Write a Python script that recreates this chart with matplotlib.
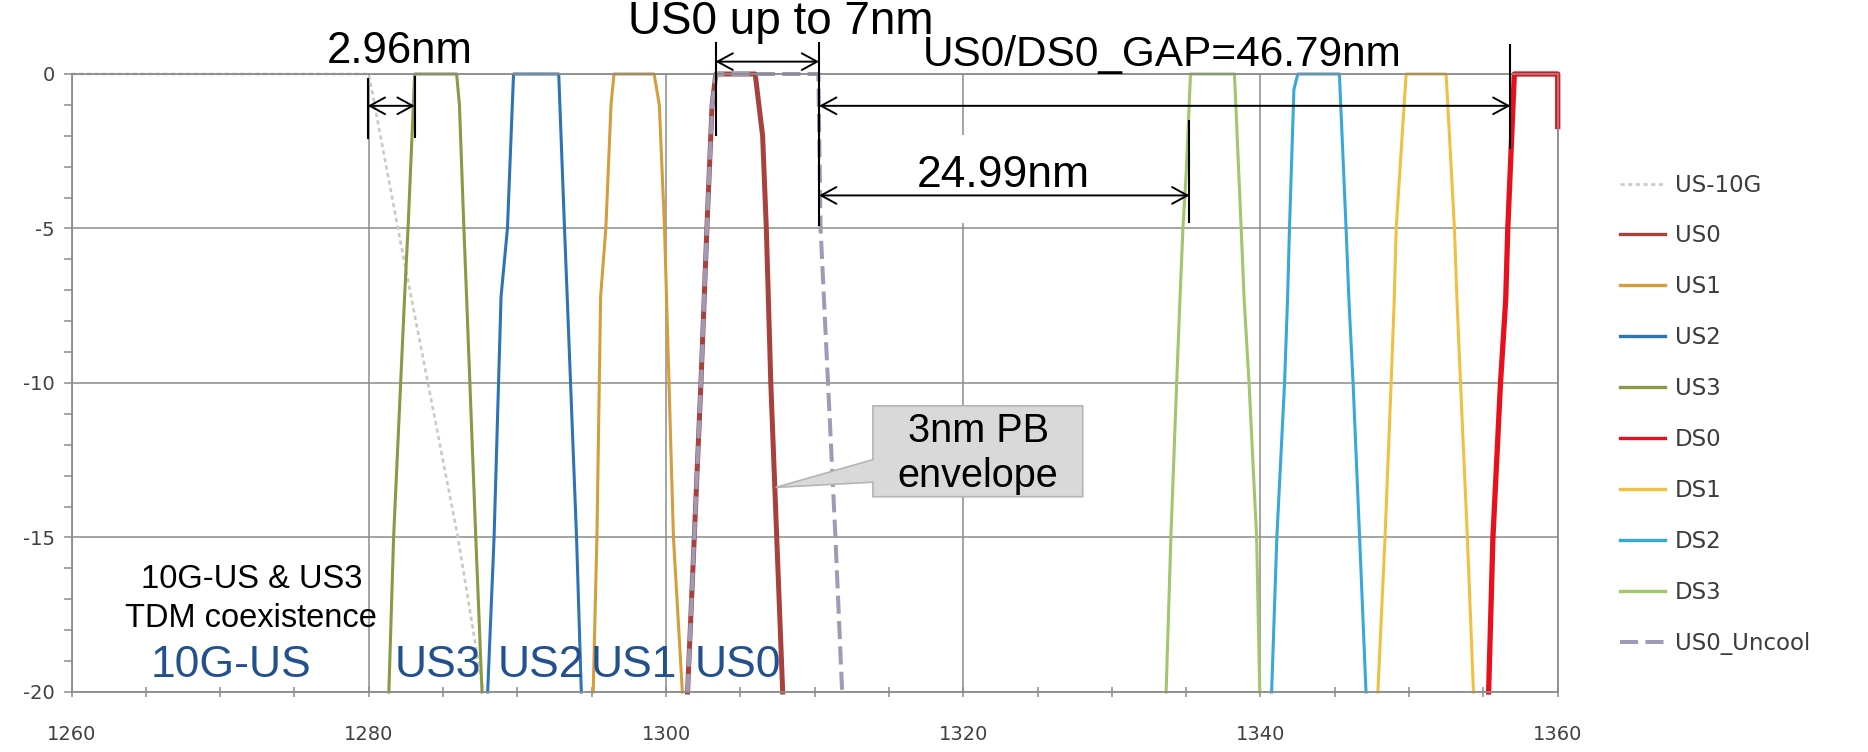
import matplotlib
matplotlib.use("Agg")
import matplotlib.pyplot as plt
from matplotlib.patches import Polygon, Rectangle

plt.rcParams["axes.unicode_minus"] = False

# filter curves: wavelength (nm) and relative power (dB)
us10g_wl = [1260.0, 1280.0, 1282.2, 1286.0, 1287.7]
us10g_db = [0, 0, -5.6, -15, -20]

us0_wl = [1301.45, 1301.9, 1302.35, 1302.75, 1303.1, 1303.35, 1306.0, 1306.5, 1306.75, 1307.05, 1307.45, 1307.85]
us0_db = [-20, -15, -10, -5, -1, 0, 0, -2, -5, -10, -15, -20]

us1_wl = [1295.1, 1295.35, 1295.6, 1295.95, 1296.3, 1296.5, 1299.2, 1299.55, 1299.9, 1300.2, 1300.5, 1301.1]
us1_db = [-20, -15, -7.2, -5, -1, 0, 0, -1, -5, -10, -15, -20]

us2_wl = [1288.0, 1288.43, 1288.9, 1289.33, 1289.74, 1292.78, 1293.17, 1293.35, 1293.98, 1294.3]
us2_db = [-20, -15, -7.2, -5, 0, 0, -5, -7.2, -15, -20]

us3_wl = [1281.35, 1281.67, 1282.41, 1282.64, 1283.09, 1285.91, 1286.1, 1286.4, 1286.58, 1287.2, 1287.62]
us3_db = [-20, -15, -7.2, -5, 0, 0, -1, -5, -7.2, -15, -20]

ds0_wl = [1355.35, 1355.64, 1356.15, 1356.5, 1356.64, 1357.08, 1360.0, 1360.0]
ds0_db = [-20, -15, -10, -7.3, -5, 0, 0, -1.7]

ds1_wl = [1347.9, 1348.38, 1348.79, 1349.0, 1349.13, 1349.8, 1352.49, 1353.05, 1353.22, 1353.46, 1353.92, 1354.33]
ds1_db = [-20, -15, -10, -7.3, -5, 0, 0, -5, -7.3, -10, -15, -20]

ds2_wl = [1340.75, 1341.1, 1341.62, 1341.82, 1341.95, 1342.25, 1342.51, 1345.31, 1345.76, 1345.95, 1346.23, 1346.67, 1347.1]
ds2_db = [-20, -15, -10, -7.3, -5, -0.5, 0, 0, -5, -7.3, -10, -15, -20]

ds3_wl = [1333.65, 1333.97, 1334.36, 1334.58, 1334.78, 1335.0, 1335.29, 1338.25, 1338.7, 1338.9, 1339.23, 1339.74, 1339.95]
ds3_db = [-20, -15, -10, -7.3, -5, -3.2, 0, 0, -5, -7.3, -10, -15, -20]

uncool_wl = [1301.45, 1301.9, 1302.35, 1302.75, 1303.1, 1303.35, 1310.25, 1310.4, 1310.9, 1311.4, 1311.85]
uncool_db = [-20, -15, -10, -5, -1, 0, 0, -5, -10, -15, -20]

band_labels = ["10G-US", "US3", "US2", "US1", "US0"]
band_centers = [1270.75, 1284.64, 1291.6, 1297.8, 1304.83]

ARIAL = ["Liberation Sans", "DejaVu Sans"]
GRID = "#8c8c8c"

fig = plt.figure(figsize=(18.68, 7.52), dpi=100)
ax = fig.add_axes([0.0383, 0.0798, 0.7956, 0.8218])

series = [
    ("US-10G", us10g_wl, us10g_db, dict(color="#c9c9c9", lw=1.9, dashes=(1.6, 1.3))),
    ("US0", us0_wl, us0_db, dict(color="#a8403b", lw=3.6)),
    ("US1", us1_wl, us1_db, dict(color="#d69d3c", lw=2.2)),
    ("US2", us2_wl, us2_db, dict(color="#2c74b4", lw=2.2)),
    ("US3", us3_wl, us3_db, dict(color="#8a9a42", lw=2.2)),
    ("DS0", ds0_wl, ds0_db, dict(color="#e8101c", lw=3.8)),
    ("DS1", ds1_wl, ds1_db, dict(color="#f0c040", lw=2.2)),
    ("DS2", ds2_wl, ds2_db, dict(color="#38a8d8", lw=2.2)),
    ("DS3", ds3_wl, ds3_db, dict(color="#a2c66a", lw=2.2)),
    ("US0_Uncool", uncool_wl, uncool_db, dict(color="#9d9bb5", lw=2.9, dashes=(4.5, 1.8))),
]
for name, wl, db, style in series:
    ax.plot(wl, db, label=name, clip_on=False, solid_joinstyle="round", zorder=2, **style)

ax.set_xlim(1260, 1360)
ax.set_ylim(-20, 0)
ax.set_xticks(range(1260, 1361, 20))
ax.set_xticks(range(1260, 1361, 5), minor=True)
ax.set_yticks(range(-20, 1, 5))
ax.set_yticks(range(-20, 1, 1), minor=True)
ax.set_axisbelow(True)
ax.grid(which="major", color=GRID, lw=1.1)
for sp in ax.spines.values():
    sp.set_color(GRID)
    sp.set_linewidth(1.3)
ax.tick_params(axis="x", which="both", direction="inout", length=7, width=1.1,
               color=GRID, pad=20, labelsize=14, labelcolor="#404040")
ax.tick_params(axis="y", which="both", direction="out", length=6, width=1.1,
               color=GRID, pad=6, labelsize=14, labelcolor="#404040")

leg = ax.legend(loc="center left", bbox_to_anchor=(0.867, 0.449), bbox_transform=fig.transFigure,
                frameon=False, fontsize=16.5, handlelength=2.0, handletextpad=0.4,
                labelspacing=1.22, borderpad=0, borderaxespad=0)
for t in leg.get_texts():
    t.set_color("#3c3c3c")
for ln in leg.get_lines():
    if ln.get_linestyle() == "-":
        ln.set_linewidth(2.4)

# dimension markers and arrows
def vmark(x, y0, y1):
    ax.plot([x, x], [y0, y1], color="k", lw=1.5, clip_on=False, zorder=5)

def dim_arrow(x0, x1, y):
    ax.annotate("", xy=(x1, y), xytext=(x0, y), annotation_clip=False, zorder=5,
                arrowprops=dict(arrowstyle="<->,head_length=0.55,head_width=0.3", lw=1.4,
                                color="k", shrinkA=0, shrinkB=0, mutation_scale=20))

vmark(1279.93, -0.17, -2.08)
vmark(1283.09, -0.09, -2.03)
vmark(1303.33, 1.0, -1.97)
vmark(1310.3, 1.0, -4.9)
vmark(1335.22, -1.52, -4.78)
vmark(1356.82, 0.94, -2.4)

dim_arrow(1279.93, 1283.09, -1.03)
dim_arrow(1303.33, 1310.3, 0.4)
dim_arrow(1310.3, 1356.82, -1.03)

ax.add_patch(Rectangle((1316.0, -4.83), 16.0, 2.85, fc="white", ec="none", zorder=1))
dim_arrow(1310.3, 1335.22, -3.93)

ax.text(1277.2, 0.35, "2.96nm", fontsize=31.5, family=ARIAL, va="baseline")
ax.text(1297.45, 1.3, "US0 up to 7nm", fontsize=33, family=ARIAL, va="baseline")
ax.text(1317.3, 0.27, "US0/DS0_GAP=46.79nm", fontsize=30.5, family=ARIAL, va="baseline")
ax.text(1316.9, -3.67, "24.99nm", fontsize=32, family=ARIAL, va="baseline", zorder=4)

# callout box
ax.add_patch(Polygon([(1313.92, -10.74), (1328.04, -10.74), (1328.04, -13.68), (1313.92, -13.68),
                      (1313.92, -13.21), (1307.37, -13.38), (1313.92, -12.48)],
                     closed=True, fc="#d9d9d9", ec="#b5b5b5", lw=1.2, zorder=4))
ax.text(1321.0, -11.55, "3nm PB", fontsize=28.5, family=ARIAL, ha="center", va="center", zorder=5)
ax.text(1321.0, -13.0, "envelope", fontsize=28.5, family=ARIAL, ha="center", va="center", zorder=5)

ax.text(1272.1, -16.65, "10G-US & US3", fontsize=23.5, family=ARIAL, ha="center", va="baseline")
ax.text(1272.1, -17.89, "TDM coexistence", fontsize=23.5, family=ARIAL, ha="center", va="baseline")

for lab, cx in zip(band_labels, band_centers):
    ax.text(cx, -19.51, lab, fontsize=32, family=ARIAL, color="#22518e", ha="center", va="baseline")

fig.savefig("out.png", dpi=100, facecolor="white")
